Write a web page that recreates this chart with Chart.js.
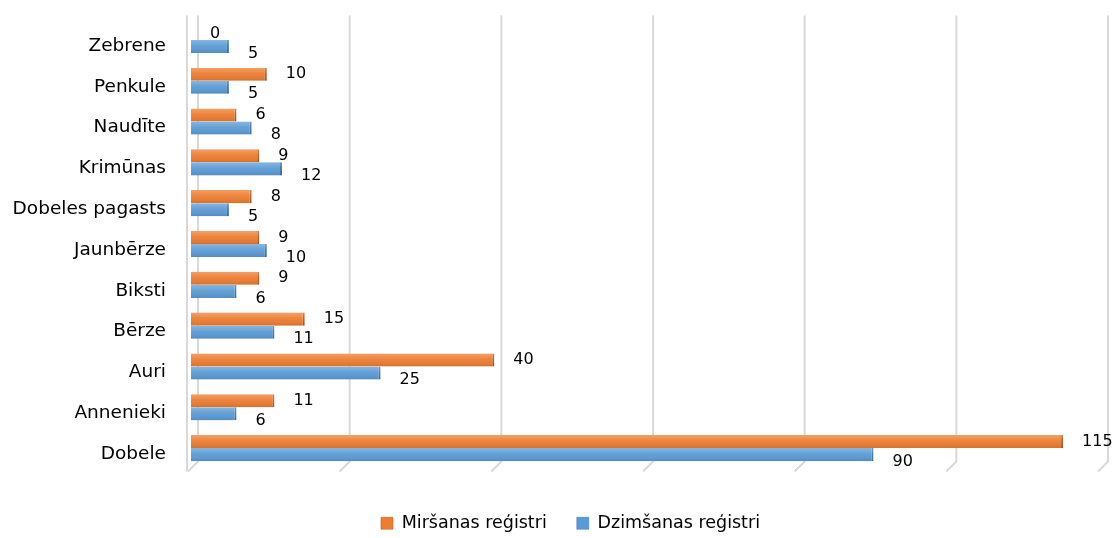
<!DOCTYPE html>
<html>
<head>
<meta charset="utf-8">
<script src="https://cdn.jsdelivr.net/npm/chart.js@4"></script>
<style>
  html, body { margin: 0; padding: 0; background: #fff; }
  #wrap { width: 1116px; height: 538px; }
</style>
</head>
<body>
<div id="wrap"><canvas id="barChart"></canvas></div>
<script>
const places = ['Zebrene', 'Penkule', 'Naudīte', 'Krimūnas', 'Dobeles pagasts', 'Jaunbērze',
  'Biksti', 'Bērze', 'Auri', 'Annenieki', 'Dobele'];
const deaths = [0, 10, 6, 9, 8, 9, 9, 15, 40, 11, 115];
const births = [5, 5, 8, 12, 5, 10, 6, 11, 25, 6, 90];

// 3D-ish gridlines: back wall line plus a short slanted foot
const wallGrid = {
  id: 'wallGrid',
  beforeDatasetsDraw(chart) {
    const { ctx, chartArea: a, scales: { x } } = chart;
    ctx.save();
    ctx.strokeStyle = '#d9d9d9';
    ctx.lineWidth = 2;
    ctx.beginPath();
    x.ticks.forEach(t => {
      const px = x.getPixelForValue(t.value);
      ctx.moveTo(px + 7, a.top - 4);
      ctx.lineTo(px + 7, a.bottom - 7);
      ctx.lineTo(px - 3, a.bottom + 3);
    });
    const p0 = x.getPixelForValue(0);
    ctx.moveTo(p0 - 4, a.top - 4);
    ctx.lineTo(p0 - 4, a.bottom + 3);
    ctx.stroke();
    ctx.restore();
  }
};

// shading on bars and value labels to the right of each bar
const barLabels = {
  id: 'barLabels',
  afterDatasetsDraw(chart) {
    const ctx = chart.ctx;
    ctx.save();
    chart.data.datasets.forEach((ds, i) => {
      chart.getDatasetMeta(i).data.forEach(bar => {
        const h = bar.height, y0 = bar.y - h / 2;
        const w = bar.x - bar.base;
        if (w <= 0) return;
        const g = ctx.createLinearGradient(0, y0, 0, y0 + h);
        g.addColorStop(0, 'rgba(255,255,255,0.28)');
        g.addColorStop(0.45, 'rgba(255,255,255,0.05)');
        g.addColorStop(1, 'rgba(0,0,0,0.10)');
        ctx.fillStyle = g;
        ctx.fillRect(bar.base, y0, w, h);
      });
    });
    ctx.font = '16px "DejaVu Sans"';
    ctx.fillStyle = '#000';
    ctx.textBaseline = 'middle';
    chart.data.datasets.forEach((ds, i) => {
      const dy = i === 0 ? 0 : 7;
      chart.getDatasetMeta(i).data.forEach((bar, j) => {
        ctx.fillText(ds.data[j], bar.x + 19, bar.y + dy);
      });
    });
    ctx.restore();
  }
};

// nudge the legend a bit to the right, as in the original
const legendShift = {
  id: 'legendShift',
  afterLayout(chart) {
    chart.legend.left += 20;
    chart.legend.right += 20;
  }
};

new Chart(document.getElementById('barChart'), {
  type: 'bar',
  data: {
    labels: places,
    datasets: [{
      label: 'Miršanas reģistri',
      data: deaths,
      backgroundColor: '#ED7D31',
      borderColor: '#B8581C',
      borderWidth: { right: 2 },
      borderSkipped: false
    }, {
      label: 'Dzimšanas reģistri',
      data: births,
      backgroundColor: '#5B9BD5',
      borderColor: '#3A75AE',
      borderWidth: { right: 2 },
      borderSkipped: false
    }]
  },
  options: {
    indexAxis: 'y',
    responsive: true,
    maintainAspectRatio: false,
    animation: false,
    categoryPercentage: 0.64,
    barPercentage: 1,
    layout: { padding: { top: 19.5, right: 15, left: 0, bottom: -4 } },
    scales: {
      x: {
        min: 0,
        max: 120,
        ticks: { display: false, stepSize: 20 },
        grid: { display: false, drawTicks: false },
        border: { display: false },
        afterFit(scale) { scale.height = 16; }
      },
      y: {
        grid: { display: false, drawTicks: false },
        border: { display: false },
        ticks: { color: '#000', font: { family: 'DejaVu Sans', size: 18.5 }, padding: 25, labelOffset: 6 },
        afterFit(scale) {
          scale.width = 191;
          scale.paddingTop = 0;
          scale.paddingBottom = 0;
        }
      }
    },
    plugins: {
      legend: {
        position: 'bottom',
        labels: {
          color: '#000',
          font: { family: 'DejaVu Sans', size: 17.5 },
          boxWidth: 12,
          boxHeight: 12,
          padding: 30
        }
      },
      tooltip: { enabled: false }
    }
  },
  plugins: [wallGrid, barLabels, legendShift]
});
</script>
</body>
</html>
